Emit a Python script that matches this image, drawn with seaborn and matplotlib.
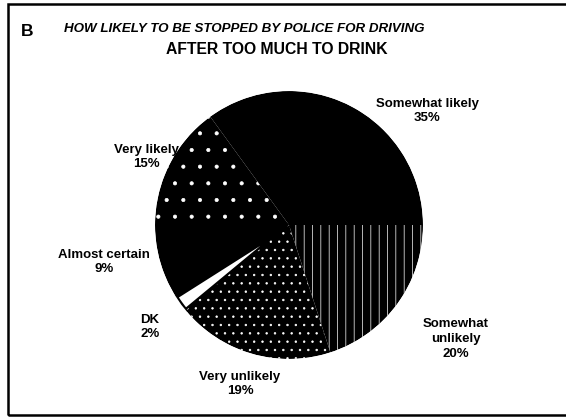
import matplotlib
matplotlib.use("Agg")
import matplotlib.pyplot as plt
import seaborn as sns
from matplotlib.patches import Rectangle, Circle

# ---- data ----
categories = ["Somewhat likely", "Very likely", "Almost certain", "DK", "Very unlikely", "Somewhat unlikely"]
label_texts = ["Somewhat likely\n35%", "Very likely\n15%", "Almost certain\n9%", "DK\n2%",
               "Very unlikely\n19%", "Somewhat\nunlikely\n20%"]
values = [35, 15, 9, 2, 19, 20]
title_line1 = "HOW LIKELY TO BE STOPPED BY POLICE FOR DRIVING"
title_line2 = "AFTER TOO MUCH TO DRINK"
panel_letter = "B"

# ---- style ----
face_colors = ["black", "black", "black", "white", "black", "black"]
hatches = [None, ".", None, None, "..", "||"]
# label centres in figure pixels (x, y from top)
label_pos = [(427, 111), (146, 157), (104, 262), (150, 327), (240, 384), (456, 339)]

sns.set_theme(style="white")
plt.rcParams["font.family"] = ["Liberation Sans", "DejaVu Sans"]
plt.rcParams["hatch.color"] = "white"
plt.rcParams["hatch.linewidth"] = 0.5

W, H = 566, 417
fig = plt.figure(figsize=(W / 100, H / 100), dpi=100)
fig.patch.set_facecolor("white")

cx, cy, r = 289, 225, 134
ax = fig.add_axes([(cx - r) / W, (H - cy - r) / H, 2 * r / W, 2 * r / H])
wedges, _ = ax.pie(values, colors=face_colors, startangle=0, counterclock=True,
                   wedgeprops=dict(linewidth=0, edgecolor="white"))
for w, h in zip(wedges, hatches):
    if h:
        w.set_hatch(h)
# DK slice outlined in black
dk = wedges[categories.index("DK")]
dk.set_edgecolor("black")
dk.set_linewidth(3.2)
# white ring just outside the disc hides the outline's outer half
px = 1.0 / r  # one pixel in data units
ax.add_patch(Circle((0, 0), 1.0 + 2.0 * px, fill=False, edgecolor="white",
                    linewidth=2.9, zorder=5))
ax.set_xlim(-1, 1)
ax.set_ylim(-1, 1)
ax.axis("off")

# labels
for txt, (x, y) in zip(label_texts, label_pos):
    fig.text(x / W, 1 - y / H, txt, ha="center", va="center", fontsize=9.5,
             fontweight="bold", color="black", linespacing=1.3)

# titles
fig.text(27 / W, 1 - 31 / H, panel_letter, ha="center", va="center", fontsize=12.5,
         fontweight="bold", color="black")
fig.text(244 / W, 1 - 29 / H, title_line1, ha="center", va="center", fontsize=9.6,
         fontweight="bold", fontstyle="italic", color="black")
fig.text(277 / W, 1 - 49 / H, title_line2, ha="center", va="center", fontsize=11.3,
         fontweight="bold", color="black")

# frame border
fig.patches.append(Rectangle((8 / W, 1 - 415 / H), (W + 10 - 8) / W, (415 - 4) / H,
                             transform=fig.transFigure, fill=False, edgecolor="black",
                             linewidth=1.8, figure=fig))

fig.savefig("out.png", dpi=100, facecolor="white")
